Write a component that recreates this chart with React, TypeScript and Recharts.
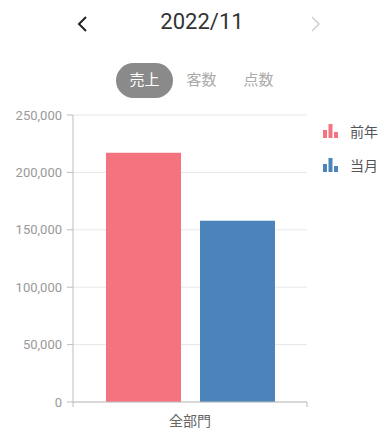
import React from 'react';
import { BarChart, Bar, XAxis, YAxis, CartesianGrid, Legend } from 'recharts';

const categories = ['全部門'];
const lastYear = [217200];
const thisMonth = [157800];
const yTicks = [0, 50000, 100000, 150000, 200000, 250000];
const tabs = ['売上', '客数', '点数'];
const title = '2022/11';

const series = [
  { key: 'lastYear', name: '前年', color: '#f5737f' },
  { key: 'thisMonth', name: '当月', color: '#4a84ba' },
];

const data = categories.map((c, i) => ({ name: c, lastYear: lastYear[i], thisMonth: thisMonth[i] }));

const FONT = "Roboto, 'Noto Sans CJK JP', sans-serif";
const CHART_W = 381;
const PLOT_LEFT = 73;
const PLOT_RIGHT = 307;

// boundary tick marks like the original (at band edges, not the band center)
function CategoryTick(props: any) {
  const { x, y, payload } = props;
  const half = (PLOT_RIGHT - PLOT_LEFT) / categories.length / 2;
  return (
    <g>
      <line x1={x - half} y1={y - 8} x2={x - half} y2={y - 3} stroke="#bdbdbd" />
      <line x1={x + half} y1={y - 8} x2={x + half} y2={y - 3} stroke="#bdbdbd" />
      <text x={x} y={y + 16} textAnchor="middle" fill="#666" fontSize={14} fontFamily={FONT}>
        {payload.value}
      </text>
    </g>
  );
}

function BarIcon({ color }: { color: string }) {
  return (
    <svg width={15} height={14}>
      <rect x={0} y={6} width={4} height={8} fill={color} />
      <rect x={5.5} y={0} width={4} height={14} fill={color} />
      <rect x={11} y={8} width={4} height={6} fill={color} />
    </svg>
  );
}

function LegendContent() {
  return (
    <div style={{ fontFamily: FONT }}>
      {series.map((s) => (
        <div key={s.key} style={{ display: 'flex', alignItems: 'center', height: 34 }}>
          <BarIcon color={s.color} />
          <span style={{ marginLeft: 12, fontSize: 14, color: '#555' }}>{s.name}</span>
        </div>
      ))}
    </div>
  );
}

function Chevron({ dir, color, width }: { dir: 'left' | 'right'; color: string; width: number }) {
  const pts = dir === 'left' ? '9,1 2,8 9,15' : '1,1 8,8 1,15';
  return (
    <svg width={11} height={16}>
      <polyline points={pts} fill="none" stroke={color} strokeWidth={width} />
    </svg>
  );
}

export default function App() {
  return (
    <div style={{ position: 'absolute', left: 0, top: 0, width: CHART_W, height: 430, overflow: 'hidden', background: '#fff', fontFamily: FONT }}>
      <div style={{ position: 'absolute', left: 77, top: 16 }}>
        <Chevron dir="left" color="#222" width={2} />
      </div>
      <div style={{ position: 'absolute', left: 0, width: 404, top: 9, textAlign: 'center', fontSize: 22, color: '#333' }}>{title}</div>
      <div style={{ position: 'absolute', left: 311, top: 16 }}>
        <Chevron dir="right" color="#d0d0d0" width={1.5} />
      </div>

      <div style={{ position: 'absolute', left: 116, top: 63, display: 'flex' }}>
        {tabs.map((t, i) => (
          <div
            key={t}
            style={{
              width: 57,
              height: 35,
              lineHeight: '35px',
              textAlign: 'center',
              borderRadius: 18,
              fontSize: 15,
              background: i === 0 ? '#8a8a8a' : 'transparent',
              color: i === 0 ? '#fff' : '#aaa',
            }}
          >
            {t}
          </div>
        ))}
      </div>

      <div style={{ position: 'absolute', left: 0, top: 100 }}>
        <BarChart
          width={CHART_W}
          height={340}
          data={data}
          margin={{ top: 15, right: 16, left: 0, bottom: 0 }}
          barSize={75}
          barGap={19}
        >
          <CartesianGrid vertical={false} stroke="#e8e8e8" />
          <XAxis
            dataKey="name"
            height={38}
            axisLine={{ stroke: '#bdbdbd' }}
            tickLine={false}
            tick={<CategoryTick />}
          />
          <YAxis
            width={73}
            domain={[0, 250000]}
            ticks={yTicks}
            interval={0}
            tickFormatter={(v: number) => v.toLocaleString('en-US')}
            tick={{ fill: '#999', fontSize: 13, fontFamily: FONT }}
            axisLine={{ stroke: '#bdbdbd' }}
            tickLine={{ stroke: '#bdbdbd' }}
            tickSize={6}
            tickMargin={5}
          />
          <YAxis
            yAxisId="right"
            orientation="right"
            width={0}
            tick={false}
            tickLine={false}
            axisLine={{ stroke: '#e4e4e4' }}
          />
          <Legend
            layout="vertical"
            align="right"
            verticalAlign="top"
            content={<LegendContent />}
            wrapperStyle={{ width: 58, left: 323, right: 'auto', top: 14 }}
          />
          {series.map((s) => (
            <Bar key={s.key} dataKey={s.key} name={s.name} fill={s.color} isAnimationActive={false} />
          ))}
        </BarChart>
      </div>
    </div>
  );
}
